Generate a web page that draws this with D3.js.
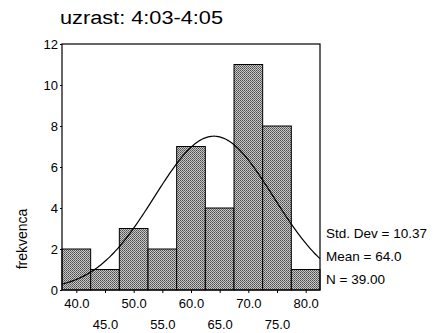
<!DOCTYPE html>
<meta charset="utf-8">
<script src="https://d3js.org/d3.v7.min.js"></script>
<style>
  body { margin: 0; background: #fff; }
  text { font-family: "Liberation Sans", Arial, sans-serif; fill: #000; }
</style>
<div id="my_dataviz"></div>
<script>
  // histogram data
  var binCenters = [40, 45, 50, 55, 60, 65, 70, 75, 80];
  var counts = [2, 1, 3, 2, 7, 4, 11, 8, 1];
  var yTicks = [0, 2, 4, 6, 8, 10, 12];
  var statLines = ["Std. Dev = 10.37", "Mean = 64.0", "N = 39.00"];
  var mean = 64.0, sd = 10.37, n = 39, binWidth = 5;

  var margin = {top: 44, right: 117, bottom: 43, left: 62},
      width = 437 - margin.left - margin.right,
      height = 333 - margin.top - margin.bottom;

  var root = d3.select("#my_dataviz")
    .append("svg")
      .attr("width", 437)
      .attr("height", 333);

  // fine hatch pattern for the bars
  var pat = root.append("defs").append("pattern")
      .attr("id", "hatch")
      .attr("patternUnits", "userSpaceOnUse")
      .attr("width", 2).attr("height", 2);
  pat.append("rect").attr("width", 2).attr("height", 2).attr("fill", "#c8c8c8");
  pat.append("rect").attr("width", 1).attr("height", 1).attr("fill", "#4c4c4c");
  pat.append("rect").attr("x", 1).attr("y", 1).attr("width", 1).attr("height", 1).attr("fill", "#6a6a6a");

  var svg = root.append("g")
      .attr("transform", "translate(" + margin.left + "," + margin.top + ")");

  var x = d3.scaleLinear()
    .domain([binCenters[0] - binWidth / 2, binCenters[binCenters.length - 1] + binWidth / 2])
    .range([0, width]);
  var y = d3.scaleLinear().domain([0, 12]).range([height, 0]);

  // title
  root.append("text")
    .attr("x", 60).attr("y", 24)
    .attr("textLength", 163)
    .attr("lengthAdjust", "spacingAndGlyphs")
    .style("font-size", "18px")
    .text("uzrast: 4:03-4:05");

  // bars
  svg.selectAll("rect.bar")
    .data(binCenters)
    .enter()
    .append("rect")
      .attr("class", "bar")
      .attr("x", function(d) { return x(d - binWidth / 2); })
      .attr("y", function(d, i) { return y(counts[i]); })
      .attr("width", function(d) { return x(d + binWidth / 2) - x(d - binWidth / 2); })
      .attr("height", function(d, i) { return height - y(counts[i]); })
      .attr("fill", "url(#hatch)")
      .attr("stroke", "#000")
      .attr("stroke-width", 1);

  // normal curve
  var xs = d3.range(x.domain()[0], x.domain()[1] + 0.01, 0.25);
  var k = n * binWidth / (sd * Math.sqrt(2 * Math.PI));
  var line = d3.line()
    .x(function(d) { return x(d); })
    .y(function(d) { return y(k * Math.exp(-0.5 * Math.pow((d - mean) / sd, 2))); });
  svg.append("path")
    .datum(xs)
    .attr("d", line)
    .attr("fill", "none")
    .attr("stroke", "#000")
    .attr("stroke-width", 1.2);

  // frame
  svg.append("rect")
    .attr("width", width).attr("height", height)
    .attr("fill", "none").attr("stroke", "#000").attr("stroke-width", 1.2);

  // Y axis
  var yAxis = svg.append("g")
    .call(d3.axisLeft(y).tickValues(yTicks).tickSize(2).tickPadding(2));
  yAxis.select(".domain").remove();
  yAxis.selectAll("text").style("font-size", "13px");

  // X axis (labels staggered on two rows)
  var xAxis = svg.append("g")
    .attr("transform", "translate(0," + height + ")")
    .call(d3.axisBottom(x).tickValues(binCenters).tickSize(3)
      .tickFormat(function(d) { return d.toFixed(1); }));
  xAxis.select(".domain").remove();
  xAxis.selectAll("text")
    .style("font-size", "13px")
    .attr("y", function(d, i) { return i % 2 === 0 ? 9 : 30; });

  // Y label
  root.append("text")
    .attr("transform", "translate(27,239)rotate(-90)")
    .attr("text-anchor", "middle")
    .style("font-size", "14px")
    .text("frekvenca");

  // stats
  root.selectAll("text.stat")
    .data(statLines)
    .enter()
    .append("text")
      .attr("class", "stat")
      .attr("x", 326)
      .attr("y", function(d, i) { return 238 + i * 23; })
      .style("font-size", "13.5px")
      .text(function(d) { return d; });
</script>
